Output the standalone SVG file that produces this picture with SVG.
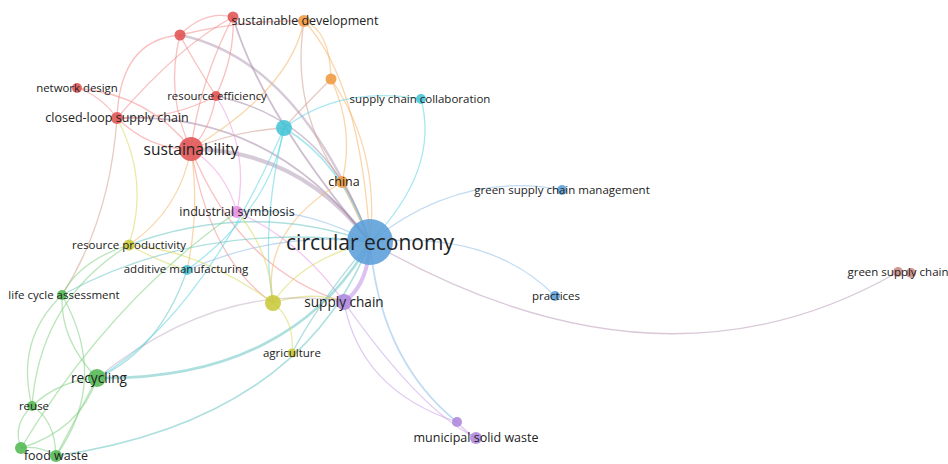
<svg xmlns="http://www.w3.org/2000/svg" width="948" height="464" viewBox="0 0 948 464">
<style>
.e{fill:none;stroke-width:1.3;stroke-opacity:.55}
.r{stroke:#f48c8c}.o{stroke:#f5b469}.c{stroke:#5ed3e3}.b{stroke:#8ebde8}.g{stroke:#7fcf7f}.y{stroke:#d9d960}.p{stroke:#c49ae8}.k{stroke:#ec9ae4}.m{stroke:#a48aa8}.t{stroke:#6cc4c4}.br{stroke:#d0a090}
.n{stroke:none;fill-opacity:.88}
.nr{fill:#e05353}.no{fill:#f09a3e}.nc{fill:#45c4d6}.nb{fill:#5a9ed8}.ng{fill:#52b852}.ny{fill:#c8c83a}.np{fill:#ad86dc}.nk{fill:#e78ee0}.nbr{fill:#c98a82}
text{font-family:"Open Sans","Noto Sans","DejaVu Sans",sans-serif;fill:#222;text-anchor:middle}
</style>
<rect width="948" height="464" fill="#fff"/>
<g id="connectors">
<path class="e m" style="stroke-width:4;stroke-opacity:.45" d="M191 149 Q300 150 370 242"/>
<path class="e m" style="stroke-width:2.5;stroke-opacity:.45" d="M180 35 Q300 60 370 242"/>
<path class="e m" style="stroke-width:1.8" d="M233 17 Q260 110 370 242"/>
<path class="e m" style="stroke-width:1.8" d="M117 118 Q270 110 370 242"/>
<path class="e r" d="M77 88 Q100 95 117 118"/>
<path class="e r" d="M77 88 Q150 95 191 149"/>
<path class="e r" d="M117 118 Q150 150 191 149"/>
<path class="e r" d="M117 118 Q170 120 216 96"/>
<path class="e r" d="M117 118 Q120 40 180 35"/>
<path class="e r" d="M117 118 Q180 45 233 17"/>
<path class="e br" d="M117 118 Q110 220 62 295"/>
<path class="e y" d="M117 118 Q150 180 129 245"/>
<path class="e r" d="M216 96 Q210 130 191 149"/>
<path class="e r" d="M216 96 Q190 55 180 35"/>
<path class="e r" d="M216 96 Q235 55 233 17"/>
<path class="e m" d="M216 96 Q330 120 370 242"/>
<path class="e r" d="M180 35 Q205 10 233 17"/>
<path class="e r" d="M180 35 Q165 95 191 149"/>
<path class="e r" d="M233 17 Q200 80 191 149"/>
<path class="e r" d="M180 35 Q240 20 304 21"/>
<path class="e o" d="M191 149 Q290 90 304 21"/>
<path class="e br" d="M191 149 Q240 130 284 128"/>
<path class="e k" d="M191 149 Q225 170 237 212"/>
<path class="e r" d="M191 149 Q240 270 344 302"/>
<path class="e r" d="M191 149 Q210 260 273 303"/>
<path class="e o" d="M191 149 Q200 210 187 270"/>
<path class="e o" d="M191 149 Q180 210 129 245"/>
<path class="e o" d="M304 21 Q330 30 331 79"/>
<path class="e br" d="M304 21 Q290 110 342 182"/>
<path class="e o" d="M304 21 Q360 80 370 242"/>
<path class="e o" d="M331 79 Q355 130 342 182"/>
<path class="e br" d="M331 79 Q300 110 284 128"/>
<path class="e o" d="M331 79 Q380 150 370 242"/>
<path class="e c" style="stroke-width:1.8" d="M284 128 Q340 160 370 242"/>
<path class="e c" d="M284 128 Q340 85 421 99"/>
<path class="e c" d="M421 99 Q440 170 370 242"/>
<path class="e c" d="M284 128 Q270 210 187 270"/>
<path class="e c" d="M284 128 Q260 230 273 303"/>
<path class="e o" d="M342 182 Q260 230 273 303"/>
<path class="e o" d="M342 182 Q355 210 370 242"/>
<path class="e b" d="M370 242 Q460 170 562 190"/>
<path class="e b" d="M370 242 Q490 230 555 296"/>
<path class="e b" style="stroke-width:1.8" d="M370 242 Q380 360 457 422"/>
<path class="e p" d="M344 302 Q360 390 457 422"/>
<path class="e p" d="M344 302 Q420 410 476 438"/>
<path class="e p" d="M457 422 Q466 432 476 438"/>
<path class="e m" style="stroke:#b89ab8" d="M370 242 Q660 409 898 272"/>
<path class="e b" d="M370 242 Q300 205 237 212"/>
<path class="e k" d="M237 212 Q300 240 344 302"/>
<path class="e k" d="M237 212 Q250 150 216 96"/>
<path class="e b" d="M370 242 Q280 230 187 270"/>
<path class="e t" d="M370 242 Q250 200 129 245"/>
<path class="e t" d="M370 242 Q200 220 62 295"/>
<path class="e t" style="stroke-width:2.6" d="M370 242 C320 330 230 380 97 378"/>
<path class="e t" style="stroke-width:1.6" d="M370 242 Q300 420 56 456"/>
<path class="e p" style="stroke-width:4;stroke-opacity:.6" d="M370 242 Q368 285 344 302"/>
<path class="e y" d="M370 242 Q300 260 273 303"/>
<path class="e t" d="M370 242 Q320 300 292 353"/>
<path class="e y" d="M273 303 Q295 320 292 353"/>
<path class="e y" d="M273 303 Q310 290 344 302"/>
<path class="e y" d="M273 303 Q200 250 129 245"/>
<path class="e y" d="M273 303 Q270 250 237 212"/>
<path class="e y" d="M129 245 Q160 262 187 270"/>
<path class="e g" d="M129 245 Q80 260 62 295"/>
<path class="e g" d="M97 378 Q60 340 62 295"/>
<path class="e g" d="M97 378 Q60 380 32 406"/>
<path class="e g" d="M97 378 Q75 420 56 456"/>
<path class="e g" d="M97 378 Q80 430 21 448"/>
<path class="e g" d="M32 406 Q12 425 21 448"/>
<path class="e g" d="M32 406 Q55 420 56 456"/>
<path class="e g" d="M21 448 Q40 445 56 456"/>
<path class="e g" d="M62 295 Q15 340 32 406"/>
<path class="e g" d="M62 295 Q110 380 56 456"/>
<path class="e t" d="M97 378 Q160 350 187 270"/>
<path class="e g" d="M21 448 Q110 300 237 212"/>
<path class="e g" d="M32 406 Q40 300 129 245"/>
<path class="e m" style="stroke-opacity:.35" d="M97 378 Q220 280 344 302"/>
<path class="e c" d="M97 378 Q200 320 284 128"/>
</g>
<g id="node-ce"><circle class="n nb" cx="370" cy="242" r="23"/><text x="370" y="250" font-size="21">circular economy</text></g>
<g id="node-sus"><circle class="n nr" cx="191" cy="149" r="12"/><text x="191" y="155" font-size="15.5">sustainability</text></g>
<g id="node-clsc"><circle class="n nr" cx="117" cy="118" r="6"/><text x="117" y="122" font-size="12.5">closed-loop supply chain</text></g>
<g id="node-nd"><circle class="n nr" cx="77" cy="88" r="5"/><text x="77" y="92" font-size="11.4">network design</text></g>
<g id="node-re"><circle class="n nr" cx="216" cy="96" r="5"/><text x="217" y="100" font-size="11.4">resource efficiency</text></g>
<g id="node-r1"><circle class="n nr" cx="180" cy="35" r="5.5"/></g>
<g id="node-r2"><circle class="n nr" cx="233" cy="17" r="5.5"/></g>
<g id="node-sd"><circle class="n no" cx="304" cy="21" r="6"/><text x="305" y="25" font-size="12.5">sustainable development</text></g>
<g id="node-o1"><circle class="n no" cx="331" cy="79" r="5.5"/></g>
<g id="node-ch"><circle class="n no" cx="342" cy="182" r="6"/><text x="344" y="186" font-size="12.5">china</text></g>
<g id="node-c1"><circle class="n nc" cx="284" cy="128" r="8"/></g>
<g id="node-scc"><circle class="n nc" cx="421" cy="99" r="5"/><text x="420" y="103" font-size="11.5">supply chain collaboration</text></g>
<g id="node-gscm"><circle class="n nb" cx="562" cy="190" r="5"/><text x="562" y="194" font-size="11.5">green supply chain management</text></g>
<g id="node-pr"><circle class="n nb" cx="555" cy="296" r="5"/><text x="556" y="300" font-size="11.5">practices</text></g>
<g id="node-gsc"><circle class="n nbr" cx="898" cy="272" r="5"/><circle class="n nbr" cx="911" cy="273" r="5"/><text x="898" y="276" font-size="11.5">green supply chain</text></g>
<g id="node-is"><circle class="n nk" cx="237" cy="212" r="6"/><text x="237" y="216" font-size="12.5">industrial symbiosis</text></g>
<g id="node-rp"><circle class="n ny" cx="129" cy="245" r="5.5"/><text x="129" y="249" font-size="11.5">resource productivity</text></g>
<g id="node-am"><circle class="n nc" cx="187" cy="270" r="5"/><text x="186" y="273" font-size="11.5">additive manufacturing</text></g>
<g id="node-y1"><circle class="n ny" cx="273" cy="303" r="8"/></g>
<g id="node-sc"><circle class="n np" cx="344" cy="302" r="8"/><text x="344" y="307" font-size="13.6">supply chain</text></g>
<g id="node-ag"><circle class="n ny" cx="292" cy="353" r="4.5"/><text x="292" y="357" font-size="11.5">agriculture</text></g>
<g id="node-lca"><circle class="n ng" cx="62" cy="295" r="5"/><text x="64" y="299" font-size="11.5">life cycle assessment</text></g>
<g id="node-rec"><circle class="n ng" cx="97" cy="378" r="9"/><text x="99" y="383" font-size="13.7">recycling</text></g>
<g id="node-reu"><circle class="n ng" cx="32" cy="406" r="5"/><text x="34" y="410" font-size="11.5">reuse</text></g>
<g id="node-g1"><circle class="n ng" cx="21" cy="448" r="6"/></g>
<g id="node-fw"><circle class="n ng" cx="56" cy="456" r="6"/><text x="56" y="460" font-size="12.5">food waste</text></g>
<g id="node-msw1"><circle class="n np" cx="457" cy="422" r="5"/></g>
<g id="node-msw"><circle class="n np" cx="476" cy="438" r="6"/><text x="476" y="442" font-size="12.5">municipal solid waste</text></g>
</svg>
